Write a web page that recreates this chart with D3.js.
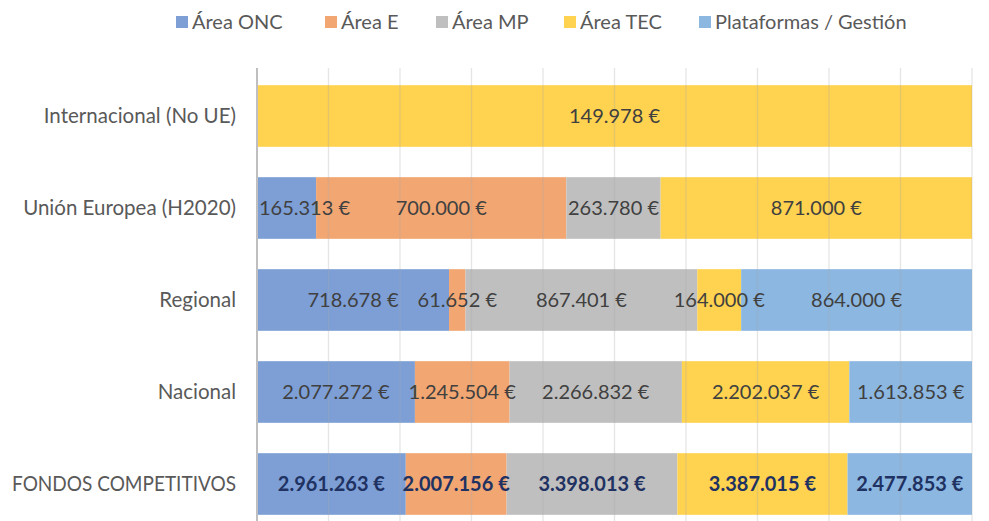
<!DOCTYPE html>
<html>
<head>
<meta charset="utf-8">
<script src="https://cdn.jsdelivr.net/npm/d3@7"></script>
<style>
  body { margin: 0; background: #fff; }
  text { font-family: Lato, "Open Sans", sans-serif; }
</style>
</head>
<body>
<div id="chart"></div>
<script>
// categories, top to bottom
const categories = ["Internacional (No UE)", "Unión Europea (H2020)", "Regional", "Nacional", "FONDOS COMPETITIVOS"];
const seriesNames = ["Área ONC", "Área E", "Área MP", "Área TEC", "Plataformas / Gestión"];
const seriesColors = ["#7D9FD6", "#F2A672", "#BFBFBF", "#FFD24F", "#8BB7E1"];

// euros per category, one array per series
const areaONC = [0, 165313, 718678, 2077272, 2961263];
const areaE = [0, 700000, 61652, 1245504, 2007156];
const areaMP = [0, 263780, 867401, 2266832, 3398013];
const areaTEC = [149978, 871000, 164000, 2202037, 3387015];
const plataformas = [0, 0, 864000, 1613853, 2477853];

const seriesValues = [areaONC, areaE, areaMP, areaTEC, plataformas];
const xTicks = [0, 0.1, 0.2, 0.3, 0.4, 0.5, 0.6, 0.7, 0.8, 0.9, 1];

const width = 989, height = 521;
const margin = {top: 70, right: 17, bottom: -9, left: 257};

// table for d3.stack
const rows = categories.map((c, i) => {
  const r = {category: c};
  seriesNames.forEach((s, j) => { r[s] = seriesValues[j][i]; });
  return r;
});

const stacked = d3.stack()
    .keys(seriesNames)
    .offset(d3.stackOffsetExpand)(rows);

const svg = d3.select("#chart")
    .append("svg")
    .attr("width", width)
    .attr("height", height);

const xScale = d3.scaleLinear()
    .domain([0, 1])
    .range([margin.left, width - margin.right]);

const yScale = d3.scaleBand()
    .domain(categories)
    .range([margin.top, height - margin.bottom])
    .paddingInner(0.33)
    .paddingOuter(0.165);

const fmt = v => d3.format(",")(v).replace(/,/g, ".") + " €";

// bars
svg.append("g")
  .selectAll("g")
  .data(stacked)
  .join("g")
    .attr("fill", (d, i) => seriesColors[i])
  .selectAll("rect")
  .data(d => d)
  .join("rect")
    .attr("x", d => xScale(d[0]))
    .attr("y", d => yScale(d.data.category))
    .attr("width", d => xScale(d[1]) - xScale(d[0]))
    .attr("height", yScale.bandwidth());

// gridlines over the bars, faint
svg.append("g")
  .selectAll("line")
  .data(xTicks.slice(1))
  .join("line")
    .attr("x1", d => xScale(d))
    .attr("x2", d => xScale(d))
    .attr("y1", margin.top - 2)
    .attr("y2", height)
    .attr("stroke", "#a8a8a8")
    .attr("stroke-opacity", 0.3)
    .attr("stroke-width", 1.3);

// left axis line
svg.append("line")
    .attr("x1", xScale(0))
    .attr("x2", xScale(0))
    .attr("y1", margin.top - 2)
    .attr("y2", height)
    .attr("stroke", "#bfbfbf")
    .attr("stroke-width", 2);

// value labels, centred but kept inside the plot like Excel does
const lastRow = categories[categories.length - 1];
svg.append("g")
  .selectAll("g")
  .data(stacked)
  .join("g")
  .selectAll("text")
  .data(d => d.filter(p => p.data[d.key] > 0).map(p => ({p: p, key: d.key})))
  .join("text")
    .attr("x", d => (xScale(d.p[0]) + xScale(d.p[1])) / 2)
    .attr("y", d => yScale(d.p.data.category) + yScale.bandwidth() / 2)
    .attr("dy", "0.35em")
    .attr("text-anchor", "middle")
    .attr("font-size", "20px")
    .attr("font-weight", d => d.p.data.category === lastRow ? "bold" : "normal")
    .attr("fill", d => d.p.data.category === lastRow ? "#1F3262" : "#404040")
    .text(d => fmt(d.p.data[d.key]))
    .each(function() {
      const t = d3.select(this);
      const w = this.getComputedTextLength();
      const x = +t.attr("x");
      const lo = xScale.range()[0] + w / 2 + 2;
      const hi = xScale.range()[1] - w / 2 + 4;
      t.attr("x", Math.min(Math.max(x, lo), hi));
    });

// category labels
svg.append("g")
  .selectAll("text")
  .data(categories)
  .join("text")
    .attr("x", margin.left - 21)
    .attr("y", d => yScale(d) + yScale.bandwidth() / 2)
    .attr("dy", "0.35em")
    .attr("text-anchor", "end")
    .attr("font-size", "20.5px")
    .attr("fill", "#595959")
    .text(d => d)
    .each(function() {
      // narrow the widest (upper-case) label to fit the margin
      if (this.getComputedTextLength() > 224) {
        d3.select(this).attr("textLength", 224).attr("lengthAdjust", "spacingAndGlyphs");
      }
    });

// legend
const legendX = [176, 325, 436, 564, 699];
const legend = svg.append("g")
  .selectAll("g")
  .data(seriesNames)
  .join("g")
    .attr("transform", (d, i) => `translate(${legendX[i]}, 22)`);

legend.append("rect")
    .attr("x", 0)
    .attr("y", -6)
    .attr("width", 12)
    .attr("height", 12)
    .attr("fill", (d, i) => seriesColors[i]);

legend.append("text")
    .attr("x", 16)
    .attr("dy", "0.35em")
    .attr("font-size", "20px")
    .attr("fill", "#595959")
    .text(d => d);
</script>
</body>
</html>
